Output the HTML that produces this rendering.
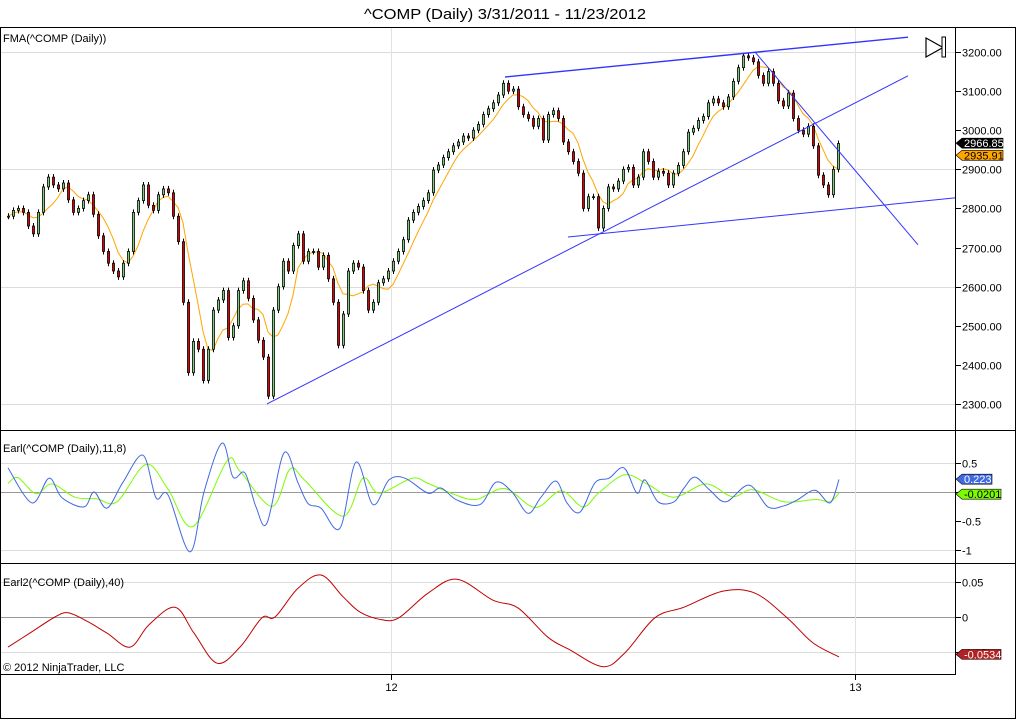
<!DOCTYPE html>
<html><head><meta charset="utf-8">
<style>
html,body{margin:0;padding:0;background:#fff;}
svg{display:block;font-family:"Liberation Sans",Arial,sans-serif;}
.ax{font-size:11px;fill:#000;}
</style></head>
<body>
<svg id="chart" width="1016" height="720" viewBox="0 0 1016 720" xmlns="http://www.w3.org/2000/svg">
  <text x="505" y="19" text-anchor="middle" font-size="15" textLength="282" lengthAdjust="spacingAndGlyphs">^COMP (Daily)  3/31/2011 - 11/23/2012</text>
  <g id="grid"></g>
  <g id="price"></g>
  <g id="osc1"></g>
  <g id="osc2"></g>
  <g id="frame">
    <line x1="0" y1="27.5" x2="1016" y2="27.5" stroke="#000"/>
    <line x1="0.5" y1="27" x2="0.5" y2="719" stroke="#000"/>
    <line x1="1015.5" y1="27" x2="1015.5" y2="719" stroke="#000"/>
    <line x1="0" y1="430.5" x2="1016" y2="430.5" stroke="#000"/>
    <line x1="0" y1="563.5" x2="1016" y2="563.5" stroke="#000"/>
    <line x1="0" y1="674.5" x2="956" y2="674.5" stroke="#000"/>
    <line x1="955.5" y1="27" x2="955.5" y2="675" stroke="#000"/>
    <line x1="0" y1="718.5" x2="1016" y2="718.5" stroke="#000"/>
  </g>
  <text class="ax" x="3" y="42">FMA(^COMP (Daily))</text>
  <text class="ax" x="3" y="452">Earl(^COMP (Daily),11,8)</text>
  <text class="ax" x="3" y="586">Earl2(^COMP (Daily),40)</text>
  <text class="ax" x="3" y="671">© 2012 NinjaTrader, LLC</text>
  <g>
    <polygon points="926,38 926,57 943,47.5" fill="#fff" stroke="#000" stroke-width="1.2"/>
    <rect x="942" y="37" width="3.5" height="20" fill="#fff" stroke="#000" stroke-width="1"/>
  </g>
  <g id="xaxis"></g>
</svg>
<script>
// ===== data =====
const closes = [2780,2795,2800,2790,2755,2735,2790,2855,2880,2860,2850,2865,2822,2790,2800,2820,2835,2785,2730,2690,2660,2640,2625,2660,2690,2790,2820,2860,2808,2795,2835,2850,2840,2780,2715,2560,2380,2460,2440,2360,2440,2540,2566,2590,2470,2500,2590,2615,2570,2515,2463,2420,2320,2540,2600,2665,2640,2705,2735,2665,2690,2690,2650,2680,2620,2560,2450,2530,2640,2660,2650,2590,2540,2560,2610,2620,2640,2665,2690,2720,2770,2790,2805,2820,2840,2898,2911,2930,2945,2960,2970,2985,2980,3000,3015,3040,3055,3070,3090,3120,3100,3105,3060,3040,3030,3010,3030,2975,3040,3050,3030,2970,2945,2920,2890,2800,2830,2830,2750,2800,2855,2850,2870,2900,2905,2860,2880,2945,2920,2880,2895,2890,2860,2890,2910,2945,2995,3005,3025,3035,3070,3080,3070,3060,3085,3125,3160,3190,3185,3175,3140,3120,3150,3120,3075,3062,3095,3030,3000,2990,3010,2960,2885,2860,2835,2900,2966];
const priceTicks = [3200,3100,3000,2900,2800,2700,2600,2500,2400,2300];
const priceGrid = [3200,2900,2600,2300];
const trendUpper = [99.4,3136,180,3238];
const trendRising = [51.8,2300,180,3139];
const trendLower = [112,2727,189.4,2827];
const trendDown = [149.4,3200,182,2707];
const earlIdx = [0,4.8,8.2,10.8,15.2,17.2,19.8,23,27,29.6,32,36.4,39.2,42.8,45,47.4,49.6,51.8,55.2,58,60,62.6,66.4,69.6,73,76.2,79.4,84,86.6,89.8,94.4,97.6,100.8,104,106.6,109.6,111.8,114.4,117.4,120.2,123.2,125.8,127.4,130,133.2,135.2,137.4,140.4,143.6,148.2,152,155.2,157.8,161.4,164.4,166.2];
const earlBlue = [0.42,-0.19,0.24,-0.1,-0.26,0,-0.28,0.17,0.64,-0.1,-0.05,-1.04,0,0.85,0.26,0.33,-0.26,-0.54,0.68,0.16,-0.2,-0.28,-0.63,0.52,-0.22,0.21,0.24,-0.02,0.07,-0.14,-0.22,0.17,0,-0.37,-0.09,0.19,-0.19,-0.35,0.16,0.24,0.42,-0.02,0.21,-0.17,-0.17,0.07,0.26,0.03,-0.17,0.12,-0.26,-0.24,-0.14,0.03,-0.19,0.22];
const signalIdx = [0,2,5.6,8.8,13.4,17.8,21.8,27.6,32,37,43.8,46.4,52.8,56.4,59.4,67,71,74.2,80.8,84,89.2,93.6,99.4,105.4,110.6,115,118.2,123.4,128,133.2,139.6,144.8,149,155.2,161.6,164.4,166.2];
const earlGreen = [0.15,0.25,-0.03,0.14,-0.09,-0.12,-0.17,0.48,0.05,-0.6,0.54,0.36,-0.25,0.4,0.2,-0.42,0.24,-0.02,0.24,0.15,-0.04,-0.13,0.06,-0.27,0.02,-0.26,-0.01,0.3,0.13,-0.09,0.14,-0.08,0.04,-0.17,-0.13,-0.17,-0.02];
const earlTicks = [0.5,0,-0.5,-1];
const earl2Idx = [0,4.8,9.4,12,15.8,19.8,24.4,28.2,33.4,37.2,41.8,46.4,50.8,53.4,58,62.6,67,70.4,74.8,78.2,84,89.8,97,102,108,112.4,119,123.4,129.4,135.2,143,149.4,155.8,161,166.2];
const earl2 = [-0.043,-0.021,0,0.006,-0.006,-0.023,-0.043,-0.011,0.014,-0.023,-0.066,-0.043,-0.001,0,0.041,0.06,0.029,0.007,-0.004,-0.001,0.034,0.054,0.024,0.013,-0.029,-0.047,-0.071,-0.051,-0.001,0.014,0.037,0.034,-0.001,-0.037,-0.057];
const earl2Ticks = [0.05,0,-0.05];
const xLabels = ["12","13"];
const xLabelIdx = [76.6,169.4];
const lastPrice = "2966.85", lastMA = "2935.91", lastBlue = "0.223", lastGreen = "-0.0201", lastEarl2 = "-0.0534";

// ===== scales =====
const NS="http://www.w3.org/2000/svg";
const xOf = i => 8 + i*5;
const yP = p => 52 + (3200-p)*0.3911;
const yE = v => 492 - v*57.5;
const yE2 = v => 617 - v*700;
function mk(tag, attrs, parent){const e=document.createElementNS(NS,tag);for(const k in attrs)e.setAttribute(k,attrs[k]);parent.appendChild(e);return e;}
const grid=document.getElementById('grid'), price=document.getElementById('price'), osc1=document.getElementById('osc1'), osc2=document.getElementById('osc2'), xaxis=document.getElementById('xaxis');

priceGrid.forEach(p=>{const l=mk('line',{x1:0,x2:955,y1:Math.round(yP(p))+0.5,y2:Math.round(yP(p))+0.5,stroke:'#dcdcdc'},grid);

});
[0.5,-1].forEach(v=>{const l=mk('line',{x1:0,x2:955,y1:Math.round(yE(v))+0.5,y2:Math.round(yE(v))+0.5,stroke:'#dcdcdc'},grid);

});
{const l=mk('line',{x1:0,x2:955,y1:Math.round(yE(0))+0.5,y2:Math.round(yE(0))+0.5,stroke:'#999'},grid);

}
[0.05,-0.05].forEach(v=>{const l=mk('line',{x1:0,x2:955,y1:Math.round(yE2(v))+0.5,y2:Math.round(yE2(v))+0.5,stroke:'#dcdcdc'},grid);

});
{const l=mk('line',{x1:0,x2:955,y1:Math.round(yE2(0))+0.5,y2:Math.round(yE2(0))+0.5,stroke:'#999'},grid);

}
xLabelIdx.forEach((ix,k)=>{const x=Math.round(xOf(ix))+0.5;
const l=mk('line',{x1:x,x2:x,y1:28,y2:674,stroke:'#e2e2e2'},grid);


const t=mk('line',{x1:x,x2:x,y1:674,y2:680,stroke:'#000'},xaxis);


const tx=mk('text',{x:x,y:691,'text-anchor':'middle',class:'ax'},xaxis);tx.textContent=xLabels[k];

});

function yTicks(arr,fy,fmt,name){arr.forEach(v=>{const y=Math.round(fy(v))+0.5;
const t=mk('line',{x1:955,x2:961,y1:y,y2:y,stroke:'#000'},grid);


const tx=mk('text',{x:962,y:y+4,class:'ax'},grid);tx.textContent=fmt(v);

});}
yTicks(priceTicks,yP,v=>v.toFixed(2),'price-axis');
yTicks(earlTicks,yE,v=>String(v),'earl-axis');
yTicks(earl2Ticks,yE2,v=>String(v),'earl2-axis');

// moving average (~6 bars)
const ma = closes.map((c,i)=>{const s=closes.slice(Math.max(0,i-5),i+1);return s.reduce((a,b)=>a+b,0)/s.length;});
{const d=ma.map((v,i)=>(i?'L':'M')+xOf(i).toFixed(1)+','+yP(v).toFixed(1)).join('');
const p=mk('path',{d:d,fill:'none',stroke:'#ffa500','stroke-width':1},price);

}

closes.forEach((c,i)=>{const o=i?closes[i-1]:c;const x=xOf(i);
const top=yP(Math.max(o,c)), bot=yP(Math.min(o,c));
const w=mk('line',{x1:x+0.5,x2:x+0.5,y1:top-3,y2:bot+3,stroke:'#000'},price);


const r=mk('rect',{x:x-0.5,y:top,width:2,height:Math.max(1,bot-top),fill:c>=o?'#7ccd7c':'#e00000',stroke:'#000','stroke-width':0.8},price);

});

[trendUpper,trendRising,trendLower,trendDown].forEach((t,k)=>{
const l=mk('line',{x1:xOf(t[0]),y1:yP(t[1]),x2:xOf(t[2]),y2:yP(t[3]),stroke:'#3333ff','stroke-width':k===0?1.4:1},price);

});

function smooth(idx,vals,fy){const pts=idx.map((ix,i)=>[xOf(ix),fy(vals[i])]);let d='M'+pts[0][0]+','+pts[0][1];
for(let i=0;i<pts.length-1;i++){const p0=pts[Math.max(0,i-1)],p1=pts[i],p2=pts[i+1],p3=pts[Math.min(pts.length-1,i+2)];
const c1=[p1[0]+(p2[0]-p0[0])/6,p1[1]+(p2[1]-p0[1])/6],c2=[p2[0]-(p3[0]-p1[0])/6,p2[1]-(p3[1]-p1[1])/6];
d+='C'+c1.map(v=>v.toFixed(1))+' '+c2.map(v=>v.toFixed(1))+' '+p2.map(v=>v.toFixed(1));}return d;}
{const p=mk('path',{d:smooth(signalIdx,earlGreen,yE),fill:'none',stroke:'#7cfc00','stroke-width':1},osc1);

}
{const p=mk('path',{d:smooth(earlIdx,earlBlue,yE),fill:'none',stroke:'#4169e1','stroke-width':1},osc1);

}
{const p=mk('path',{d:smooth(earl2Idx,earl2,yE2),fill:'none',stroke:'#c00000','stroke-width':1},osc2);

}

function flag(y,txt,bg,fg,w,name){const g=mk('g',{},grid);


mk('polygon',{points:`956,${y} 962,${y-5} ${962+w},${y-5} ${962+w},${y+5} 962,${y+5}`,fill:bg,stroke:'#000','stroke-width':0.6},g);
const t=mk('text',{x:964,y:y+4,fill:fg,'font-size':11},g);t.textContent=txt;}
flag(yP(2966.85),lastPrice,'#000','#fff',41,'last-price-flag');
flag(yP(2935.91),lastMA,'#ffa500','#000',41,'ma-value-flag');
flag(yE(0.223),lastBlue,'#4169e1','#fff',30,'earl-value-flag');
flag(yE(-0.0201)+1,lastGreen,'#7cfc00','#000',39,'earl-signal-value-flag');
flag(yE2(-0.0534),lastEarl2,'#b22222','#fff',39,'earl2-value-flag');
</script>
</body></html>
